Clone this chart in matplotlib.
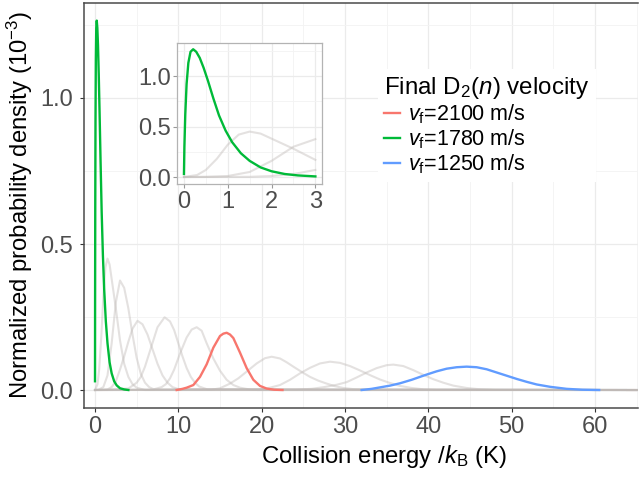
import matplotlib
matplotlib.use('Agg')
import matplotlib.pyplot as plt
from matplotlib.ticker import MultipleLocator, FormatStrFormatter

plt.rcParams['font.family'] = ['Liberation Sans', 'DejaVu Sans']
plt.rcParams['mathtext.fontset'] = 'custom'
plt.rcParams['mathtext.rm'] = 'Liberation Sans'
plt.rcParams['mathtext.it'] = 'Liberation Sans:italic'
plt.rcParams['mathtext.bf'] = 'Liberation Sans:bold'

# ---------------- data ----------------
# background (grey) distributions for the other final velocities
grey1_x = [0, 0.3, 0.5, 0.75, 1.0, 1.25, 1.5, 1.75, 2.0, 2.5, 3.0, 3.5, 4.0, 4.5, 5.0, 6.0, 65]
grey1_y = [0, 0.02, 0.07, 0.18, 0.32, 0.42, 0.45, 0.43, 0.38, 0.28, 0.17, 0.09, 0.045, 0.02, 0.008, 0, 0]
grey2_x = [0, 0.5, 1.0, 1.5, 2.0, 2.5, 3.0, 3.5, 4.0, 4.5, 5.0, 5.5, 6.0, 6.5, 7.0, 65]
grey2_y = [0, 0.002, 0.01, 0.05, 0.16, 0.30, 0.375, 0.35, 0.28, 0.19, 0.11, 0.055, 0.025, 0.01, 0.003, 0]
grey3_x = [0, 1.5, 2.0, 2.5, 3.0, 3.5, 4.0, 4.5, 5.1, 5.7, 6.3, 6.9, 7.5, 8.1, 8.7, 9.3, 10.0, 65]
grey3_y = [0, 0.002, 0.01, 0.03, 0.07, 0.115, 0.165, 0.21, 0.237, 0.225, 0.19, 0.14, 0.09, 0.05, 0.025, 0.01, 0.003, 0]
grey4_x = [0, 4.0, 5.0, 5.5, 6.0, 6.5, 7.0, 7.5, 8.35, 9.0, 9.5, 10.0, 10.5, 11.0, 11.5, 12.0, 12.5, 13.5, 65]
grey4_y = [0, 0.005, 0.025, 0.045, 0.08, 0.125, 0.17, 0.215, 0.249, 0.235, 0.205, 0.16, 0.115, 0.075, 0.045, 0.025, 0.012, 0.002, 0]
grey5_x = [0, 7.0, 8.0, 8.5, 9.0, 9.5, 10.2, 11.0, 11.6, 12.2, 12.8, 13.4, 14.2, 15.0, 15.8, 16.6, 17.4, 18.5, 19.5, 65]
grey5_y = [0, 0.002, 0.01, 0.02, 0.04, 0.07, 0.125, 0.18, 0.207, 0.215, 0.203, 0.16, 0.108, 0.066, 0.035, 0.017, 0.008, 0.002, 0, 0]
grey6_x = [0, 14, 15, 16.2, 17.2, 18.2, 19.4, 20.4, 21.2, 22.2, 23.0, 23.8, 24.8, 25.8, 26.8, 27.8, 28.8, 29.8, 31, 32.5, 65]
grey6_y = [0, 0.001, 0.006, 0.022, 0.04, 0.063, 0.091, 0.109, 0.114, 0.108, 0.095, 0.08, 0.062, 0.045, 0.032, 0.022, 0.013, 0.007, 0.003, 0.001, 0]
grey7_x = [0, 19, 20, 21, 22.2, 23.4, 24.6, 25.8, 27, 28.2, 29.4, 30.6, 31.8, 33, 34.2, 35.4, 36.6, 38, 39.5, 41, 65]
grey7_y = [0, 0.001, 0.003, 0.008, 0.017, 0.035, 0.057, 0.076, 0.091, 0.097, 0.093, 0.082, 0.067, 0.051, 0.036, 0.024, 0.014, 0.007, 0.002, 0.0005, 0]
grey8_x = [0, 24, 26, 27.5, 29, 30.2, 31.4, 32.6, 33.8, 35, 35.8, 37, 38.2, 39.4, 40.6, 41.8, 43, 44.6, 46, 48, 65]
grey8_y = [0, 0.001, 0.004, 0.01, 0.018, 0.027, 0.043, 0.06, 0.075, 0.085, 0.087, 0.082, 0.068, 0.052, 0.037, 0.025, 0.015, 0.007, 0.003, 0.0005, 0]

# highlighted final velocities
red_x = [9.8, 10.5, 11.0, 11.8, 12.6, 13.4, 14.2, 15.0, 15.4, 15.8, 16.2, 16.6, 17.4, 18.2, 19.0, 19.8, 20.6, 21.5, 22.5]
red_y = [0, 0.004, 0.008, 0.017, 0.045, 0.088, 0.145, 0.185, 0.193, 0.196, 0.19, 0.178, 0.128, 0.075, 0.035, 0.014, 0.005, 0.001, 0]
green_x = [0, 0.01, 0.03, 0.06, 0.1, 0.15, 0.21, 0.28, 0.36, 0.45, 0.55, 0.67, 0.8, 0.95, 1.1, 1.3,
           1.5, 1.75, 2.0, 2.3, 2.6, 3.0, 3.5, 4.0]
green_y = [0.03, 0.3, 0.62, 0.92, 1.13, 1.24, 1.265, 1.24, 1.18, 1.08, 0.95, 0.78, 0.61, 0.46, 0.345, 0.235,
           0.16, 0.095, 0.057, 0.03, 0.016, 0.006, 0.002, 0]
blue_x = [32, 33.2, 34.2, 35.4, 36.6, 38, 39.6, 41, 42.2, 43.4, 44.6, 45.8, 47.0, 48.2, 49.4, 50.6, 51.8, 53, 54.6, 56.6, 58.5, 60.5]
blue_y = [0, 0.004, 0.009, 0.015, 0.023, 0.035, 0.051, 0.064, 0.073, 0.078, 0.08, 0.078, 0.071, 0.06, 0.049, 0.038, 0.028, 0.019, 0.011, 0.004, 0.001, 0]

velocity_labels = ['2100', '1780', '1250']

grey_curves = [(grey1_x, grey1_y), (grey2_x, grey2_y), (grey3_x, grey3_y), (grey4_x, grey4_y),
               (grey5_x, grey5_y), (grey6_x, grey6_y), (grey7_x, grey7_y), (grey8_x, grey8_y)]
colour_curves = [(red_x, red_y, '#F8766D'), (green_x, green_y, '#00BA38'), (blue_x, blue_y, '#619CFF')]

GREY = (0.75, 0.725, 0.715)
GRID_MAJ = '#ebebeb'
GRID_MIN = '#f3f3f3'
TICK_C = '#4d4d4d'

fig = plt.figure(figsize=(6.4, 4.78), dpi=100)
W, H = 640, 478


def px_axes(l, t, r, b):
    return fig.add_axes([l / W, 1 - b / H, (r - l) / W, (b - t) / H])


def style(ax, minor_x, tick_c, fs):
    ax.set_facecolor('white')
    ax.xaxis.set_minor_locator(MultipleLocator(minor_x))
    ax.yaxis.set_minor_locator(MultipleLocator(0.25))
    ax.grid(which='major', color=GRID_MAJ, lw=0.9, zorder=0)
    ax.grid(which='minor', color=GRID_MIN, lw=0.6, zorder=0)
    ax.set_axisbelow(True)
    ax.tick_params(which='minor', length=0)
    ax.tick_params(which='major', length=2.75, width=0.8, color=tick_c, labelcolor=TICK_C, labelsize=fs)


# ---------------- main panel ----------------
ax = px_axes(84, 2.5, 638, 408)
for gx, gy in grey_curves:
    ax.plot(gx, gy, color=GREY, alpha=0.42, lw=1.5, zorder=2)
handles = []
for cx, cy, c in colour_curves:
    h, = ax.plot(cx, cy, color=c, lw=1.7, zorder=3)
    handles.append(h)
ax.set_xlim(-1.32, 65.16)
ax.set_ylim(-0.0616, 1.327)
ax.xaxis.set_major_locator(MultipleLocator(10))
ax.yaxis.set_major_locator(MultipleLocator(0.5))
ax.yaxis.set_major_formatter(FormatStrFormatter('%.1f'))
style(ax, 5, '#333333', 17)
ax.tick_params(axis='y', pad=5)
ax.tick_params(axis='x', pad=3)
for s in ['left', 'bottom', 'top']:
    ax.spines[s].set_color('#4a4a4a')
    ax.spines[s].set_linewidth(1.1)
ax.spines['right'].set_visible(False)

fig.text(20 / W, 1 - 205 / H, 'Normalized probability density (10$^{\\mathregular{-3}}$)', rotation=90,
         ha='center', va='center', fontsize=17.2, color='black')
fig.text(384 / W, 1 - 456 / H, 'Collision energy /$k_\\mathrm{B}$ (K)', ha='center', va='center',
         fontsize=17.2, color='black')

leg = ax.legend(handles, ['$v_\\mathrm{f}$=' + v + ' m/s' for v in velocity_labels],
                title='Final D$_2$($n$) velocity', loc='upper left',
                bbox_to_anchor=(367 / W, 1 - 58 / H), bbox_transform=fig.transFigure,
                frameon=True, fontsize=15.5, title_fontsize=17.4, handlelength=0.75,
                handletextpad=0.35, labelspacing=0.06, borderpad=0.3, alignment='left')
leg.get_frame().set_facecolor('white')
leg.get_frame().set_edgecolor('none')
leg.get_frame().set_alpha(1)
leg.get_frame().set_boxstyle('square', pad=0)

# ---------------- inset ----------------
ai = px_axes(177.3, 43.3, 322.3, 184)
for gx, gy in grey_curves:
    sx = [x for x in gx if x <= 3]
    sy = [y for x, y in zip(gx, gy) if x <= 3]
    ai.plot(sx, sy, color=GREY, alpha=0.42, lw=1.5, zorder=2)
for cx, cy, c in colour_curves:
    sx = [x for x in cx if x <= 3]
    sy = [y for x, y in zip(cx, cy) if x <= 3]
    if len(sx) > 1:
        ai.plot(sx, sy, color=c, lw=1.7, zorder=3)
ai.set_xlim(-0.152, 3.158)
ai.set_ylim(-0.069, 1.324)
ai.xaxis.set_major_locator(MultipleLocator(1))
ai.yaxis.set_major_locator(MultipleLocator(0.5))
ai.yaxis.set_major_formatter(FormatStrFormatter('%.1f'))
style(ai, 0.5, '#999999', 17)
ai.tick_params(axis='y', pad=2)
ai.tick_params(axis='x', pad=2)
for s in ai.spines.values():
    s.set_color('#b3b3b3')
    s.set_linewidth(0.9)

fig.savefig('out.png', dpi=100, facecolor='white')
